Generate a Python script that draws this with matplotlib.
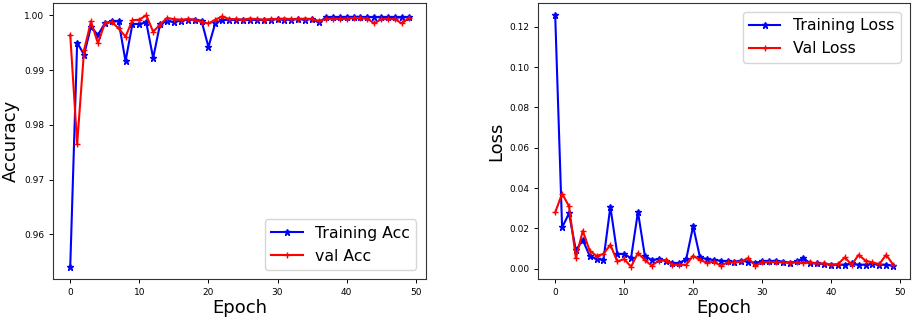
import matplotlib
matplotlib.use('Agg')
import matplotlib.pyplot as plt

# values
epochs = list(range(50))

train_acc = [0.9541, 0.9950, 0.9928, 0.9979, 0.9964, 0.9985, 0.9989, 0.9989, 0.9916, 0.9984,
             0.9984, 0.9987, 0.9922, 0.9984, 0.9989, 0.9988, 0.9990, 0.9992, 0.9992, 0.9990,
             0.9942, 0.9986, 0.9991, 0.9992, 0.9991, 0.9992, 0.9991, 0.9992, 0.9991, 0.9992,
             0.9993, 0.9992, 0.9992, 0.9993, 0.9992, 0.9993, 0.9987, 0.9996, 0.9996, 0.9996,
             0.9997, 0.9997, 0.9997, 0.9996, 0.9997, 0.9996, 0.9996, 0.9996, 0.9996, 0.9997]

val_acc = [0.9964, 0.9765, 0.9936, 0.9989, 0.9949, 0.9985, 0.9988, 0.9976, 0.9961, 0.9991,
           0.9992, 1.0000, 0.9970, 0.9983, 0.9995, 0.9993, 0.9992, 0.9993, 0.9992, 0.9988,
           0.9985, 0.9992, 0.9998, 0.9993, 0.9993, 0.9992, 0.9994, 0.9993, 0.9992, 0.9993,
           0.9993, 0.9994, 0.9993, 0.9993, 0.9994, 0.9993, 0.9990, 0.9993, 0.9994, 0.9993,
           0.9994, 0.9995, 0.9995, 0.9994, 0.9985, 0.9993, 0.9993, 0.9993, 0.9985, 0.9995]

train_loss = [0.1257, 0.0205, 0.0274, 0.0092, 0.0142, 0.0064, 0.0048, 0.0045, 0.0307, 0.0073,
              0.0073, 0.0053, 0.0282, 0.0064, 0.0043, 0.0048, 0.0040, 0.0028, 0.0028, 0.0048,
              0.0211, 0.0056, 0.0048, 0.0043, 0.0040, 0.0036, 0.0035, 0.0040, 0.0035, 0.0030,
              0.0036, 0.0036, 0.0040, 0.0035, 0.0030, 0.0036, 0.0053, 0.0026, 0.0026, 0.0023,
              0.0020, 0.0020, 0.0020, 0.0026, 0.0020, 0.0020, 0.0023, 0.0020, 0.0020, 0.0015]

val_loss = [0.0279, 0.0373, 0.0310, 0.0053, 0.0188, 0.0089, 0.0064, 0.0073, 0.0119, 0.0036,
            0.0048, 0.0010, 0.0078, 0.0043, 0.0015, 0.0040, 0.0043, 0.0020, 0.0020, 0.0020,
            0.0064, 0.0043, 0.0030, 0.0035, 0.0015, 0.0031, 0.0031, 0.0036, 0.0053, 0.0015,
            0.0031, 0.0033, 0.0033, 0.0031, 0.0030, 0.0031, 0.0028, 0.0031, 0.0026, 0.0026,
            0.0020, 0.0023, 0.0056, 0.0020, 0.0069, 0.0040, 0.0031, 0.0023, 0.0069, 0.0020]

tick_size = 6.5
label_size = 13
legend_size = 11.3

fig = plt.figure(figsize=(9.13, 3.2), dpi=100)
ax1 = fig.add_axes([0.0584, 0.1272, 0.4079, 0.8644])
ax2 = fig.add_axes([0.5896, 0.1272, 0.4071, 0.8644])

# Accuracy
ax1.plot(epochs, train_acc, color='blue', marker='*', lw=1.5, ms=4.5, label='Training Acc')
ax1.plot(epochs, val_acc, color='red', marker='+', lw=1.5, ms=5, mew=1.0, label='val Acc')
ax1.set_xlabel('Epoch', fontsize=label_size, labelpad=1.5)
ax1.set_ylabel('Accuracy', fontsize=label_size, labelpad=3)
ax1.legend(loc='lower right', fontsize=legend_size, borderaxespad=0.6)

# Loss
ax2.plot(epochs, train_loss, color='blue', marker='*', lw=1.5, ms=4.5, label='Training Loss')
ax2.plot(epochs, val_loss, color='red', marker='+', lw=1.5, ms=5, mew=1.0, label='Val Loss')
ax2.set_xlabel('Epoch', fontsize=label_size, labelpad=1.5)
ax2.set_ylabel('Loss', fontsize=label_size, labelpad=3)
ax2.legend(loc='upper right', fontsize=legend_size, borderaxespad=0.6)

for ax in (ax1, ax2):
    ax.set_xticks([0, 10, 20, 30, 40, 50])
    ax.tick_params(labelsize=tick_size, length=3, width=0.7, pad=3.5)
    for s in ax.spines.values():
        s.set_linewidth(0.8)
        s.set_color('#333333')

fig.savefig('out.png', dpi=100)
